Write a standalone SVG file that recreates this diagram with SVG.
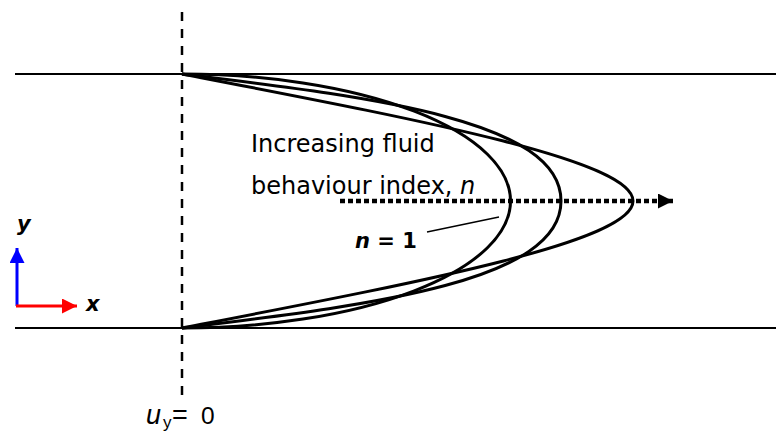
<svg xmlns="http://www.w3.org/2000/svg" width="776" height="433" viewBox="0 0 776 433">
<defs>
<style>
.wall{stroke:#000;stroke-width:2;fill:none}
.prof{stroke:#000;stroke-width:3;fill:none}
.t{font-family:"DejaVu Sans",Verdana,sans-serif;fill:#000}
.c{font-family:"Liberation Sans",Arial,sans-serif;fill:#000}
</style>
<marker id="ah" markerUnits="userSpaceOnUse" markerWidth="16" markerHeight="16" refX="15" refY="7.5" orient="auto"><path d="M0,0 L15,7.5 L0,15 Z" fill="#000"/></marker>
<marker id="ahb" markerUnits="userSpaceOnUse" markerWidth="16" markerHeight="16" refX="15" refY="7.5" orient="auto"><path d="M0,0 L15,7.5 L0,15 Z" fill="#0000ff"/></marker>
<marker id="ahr" markerUnits="userSpaceOnUse" markerWidth="16" markerHeight="16" refX="15" refY="7.5" orient="auto"><path d="M0,0 L15,7.5 L0,15 Z" fill="#ff0000"/></marker>
</defs>
<rect width="776" height="433" fill="#fff"/>
<g id="walls">
<line class="wall" x1="15" y1="74" x2="776" y2="74"/>
<line class="wall" x1="15" y1="328" x2="776" y2="328"/>
</g>
<g id="centreline">
<line x1="182" y1="12" x2="182" y2="400" stroke="#000" stroke-width="2.5" stroke-dasharray="9 8"/>
</g>
<g id="profiles">
<path id="p1" class="prof" d="M182,74 A328.5,127 0 0 1 182,328"/>
<path id="p2" class="prof" d="M182,74 C360,96 561,118 561,201 C561,284 360,306 182,328"/>
<path id="p3" class="prof" d="M182,74 C420,120 633,160 633,201 C633,242 420,282 182,328"/>
</g>
<g id="connectors">
<line x1="340" y1="201" x2="673" y2="201" stroke="#000" stroke-width="4.5" stroke-dasharray="5 3" marker-end="url(#ah)"/>
<line x1="427" y1="232" x2="499" y2="217" stroke="#000" stroke-width="1.5"/>
<line x1="17" y1="306" x2="17" y2="248" stroke="#0000ff" stroke-width="3" marker-end="url(#ahb)"/>
<line x1="16" y1="306" x2="77" y2="306" stroke="#ff0000" stroke-width="3" marker-end="url(#ahr)"/>
</g>
<g id="label-increasing">
<text class="t" x="251" y="152" font-size="24">Increasing fluid</text>
<text class="t" x="251" y="194" font-size="24">behaviour index, <tspan font-style="italic">n</tspan></text>
</g>
<g id="label-n1">
<text class="t" x="355" y="248" font-size="21" font-weight="bold"><tspan font-style="italic">n</tspan> = 1</text>
</g>
<g id="axes-labels">
<text class="t" x="17" y="231" font-size="21" font-weight="bold" font-style="italic">y</text>
<text class="t" x="86" y="311" font-size="21" font-weight="bold" font-style="italic">x</text>
</g>
<g id="label-uy">
<text class="c" y="424"><tspan x="146" font-size="27" font-style="italic">u</tspan><tspan x="163" y="428" font-size="17">y</tspan><tspan x="172" y="424" font-size="27">=</tspan><tspan x="201" font-size="24.5">0</tspan></text>
</g>
</svg>
